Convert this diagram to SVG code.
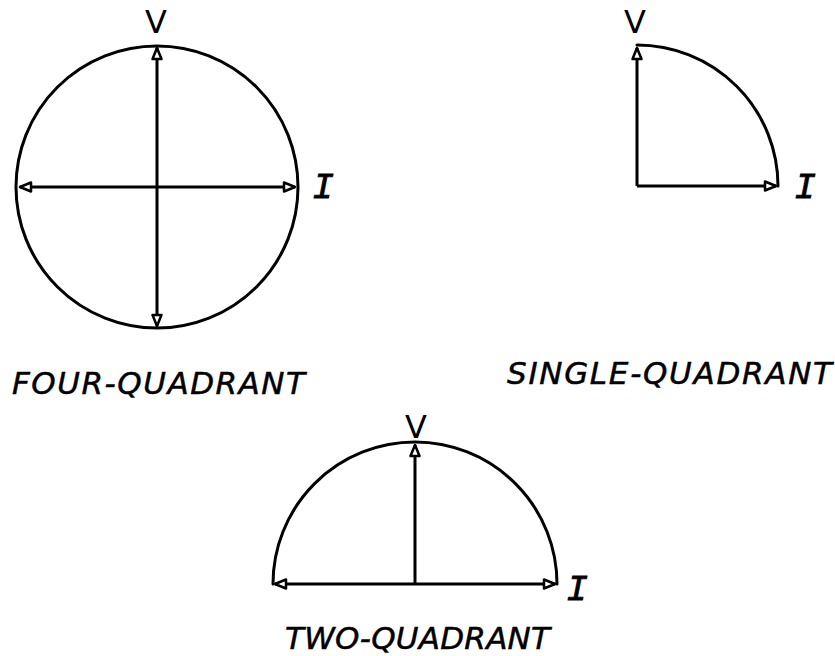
<svg xmlns="http://www.w3.org/2000/svg" width="835" height="656" viewBox="0 0 835 656">
<style>
.ln{fill:none;stroke:#000;stroke-width:3;stroke-linecap:round}
.ax{fill:none;stroke:#000;stroke-width:3;marker-end:url(#ah)}
.ax2{fill:none;stroke:#000;stroke-width:3;marker-end:url(#ah);marker-start:url(#ah)}
.lbl{font-family:"DejaVu Sans","Liberation Sans",sans-serif;font-style:oblique;font-size:31px;fill:#000;stroke:#000;stroke-width:0.5}
.v{font-family:"DejaVu Sans","Liberation Sans",sans-serif;font-size:32px;fill:#000;text-anchor:middle}
.i{font-family:"Liberation Mono","Courier New",monospace;font-size:36px;fill:#000;text-anchor:middle;font-style:italic;stroke:#000;stroke-width:0.8}
</style>
<defs>
<marker id="ah" markerUnits="userSpaceOnUse" viewBox="-14 -7 16 14" refX="0" refY="0" markerWidth="16" markerHeight="14" orient="auto-start-reverse">
<path d="M0,0 L-11,-4.5 L-11,4.5 Z" fill="#fff" stroke="#000" stroke-width="2.5" stroke-linejoin="round"/>
</marker>
</defs>
<g id="four-quadrant">
<circle class="ln" cx="157" cy="187" r="141"/>
<g id="connectors-four">
<line class="ax2" x1="20" y1="187" x2="295" y2="187"/>
<line class="ax2" x1="157" y1="48" x2="157" y2="326"/>
</g>
<text class="v" x="156" y="33">V</text>
<text class="i" x="323" y="198">I</text>
<text class="lbl" x="12" y="394" textLength="293" lengthAdjust="spacing">FOUR-QUADRANT</text>
</g>
<g id="single-quadrant">
<path class="ln" d="M637,45 A141,141 0 0 1 778,186"/>
<g id="connectors-single">
<line class="ax" x1="637" y1="186" x2="637" y2="48"/>
<line class="ax" x1="637" y1="186" x2="776" y2="186"/>
</g>
<text class="v" x="635" y="33">V</text>
<text class="i" x="805" y="198">I</text>
<text class="lbl" x="507" y="384" textLength="325" lengthAdjust="spacing">SINGLE-QUADRANT</text>
</g>
<g id="two-quadrant">
<path class="ln" d="M273,584 A142,142 0 0 1 557,584"/>
<g id="connectors-two">
<line class="ax2" x1="275" y1="584" x2="555" y2="584"/>
<line class="ax" x1="415" y1="584" x2="415" y2="445"/>
</g>
<text class="v" x="416" y="438">V</text>
<text class="i" x="577" y="600">I</text>
<text class="lbl" x="285" y="649" textLength="265" lengthAdjust="spacing">TWO-QUADRANT</text>
</g>
</svg>
